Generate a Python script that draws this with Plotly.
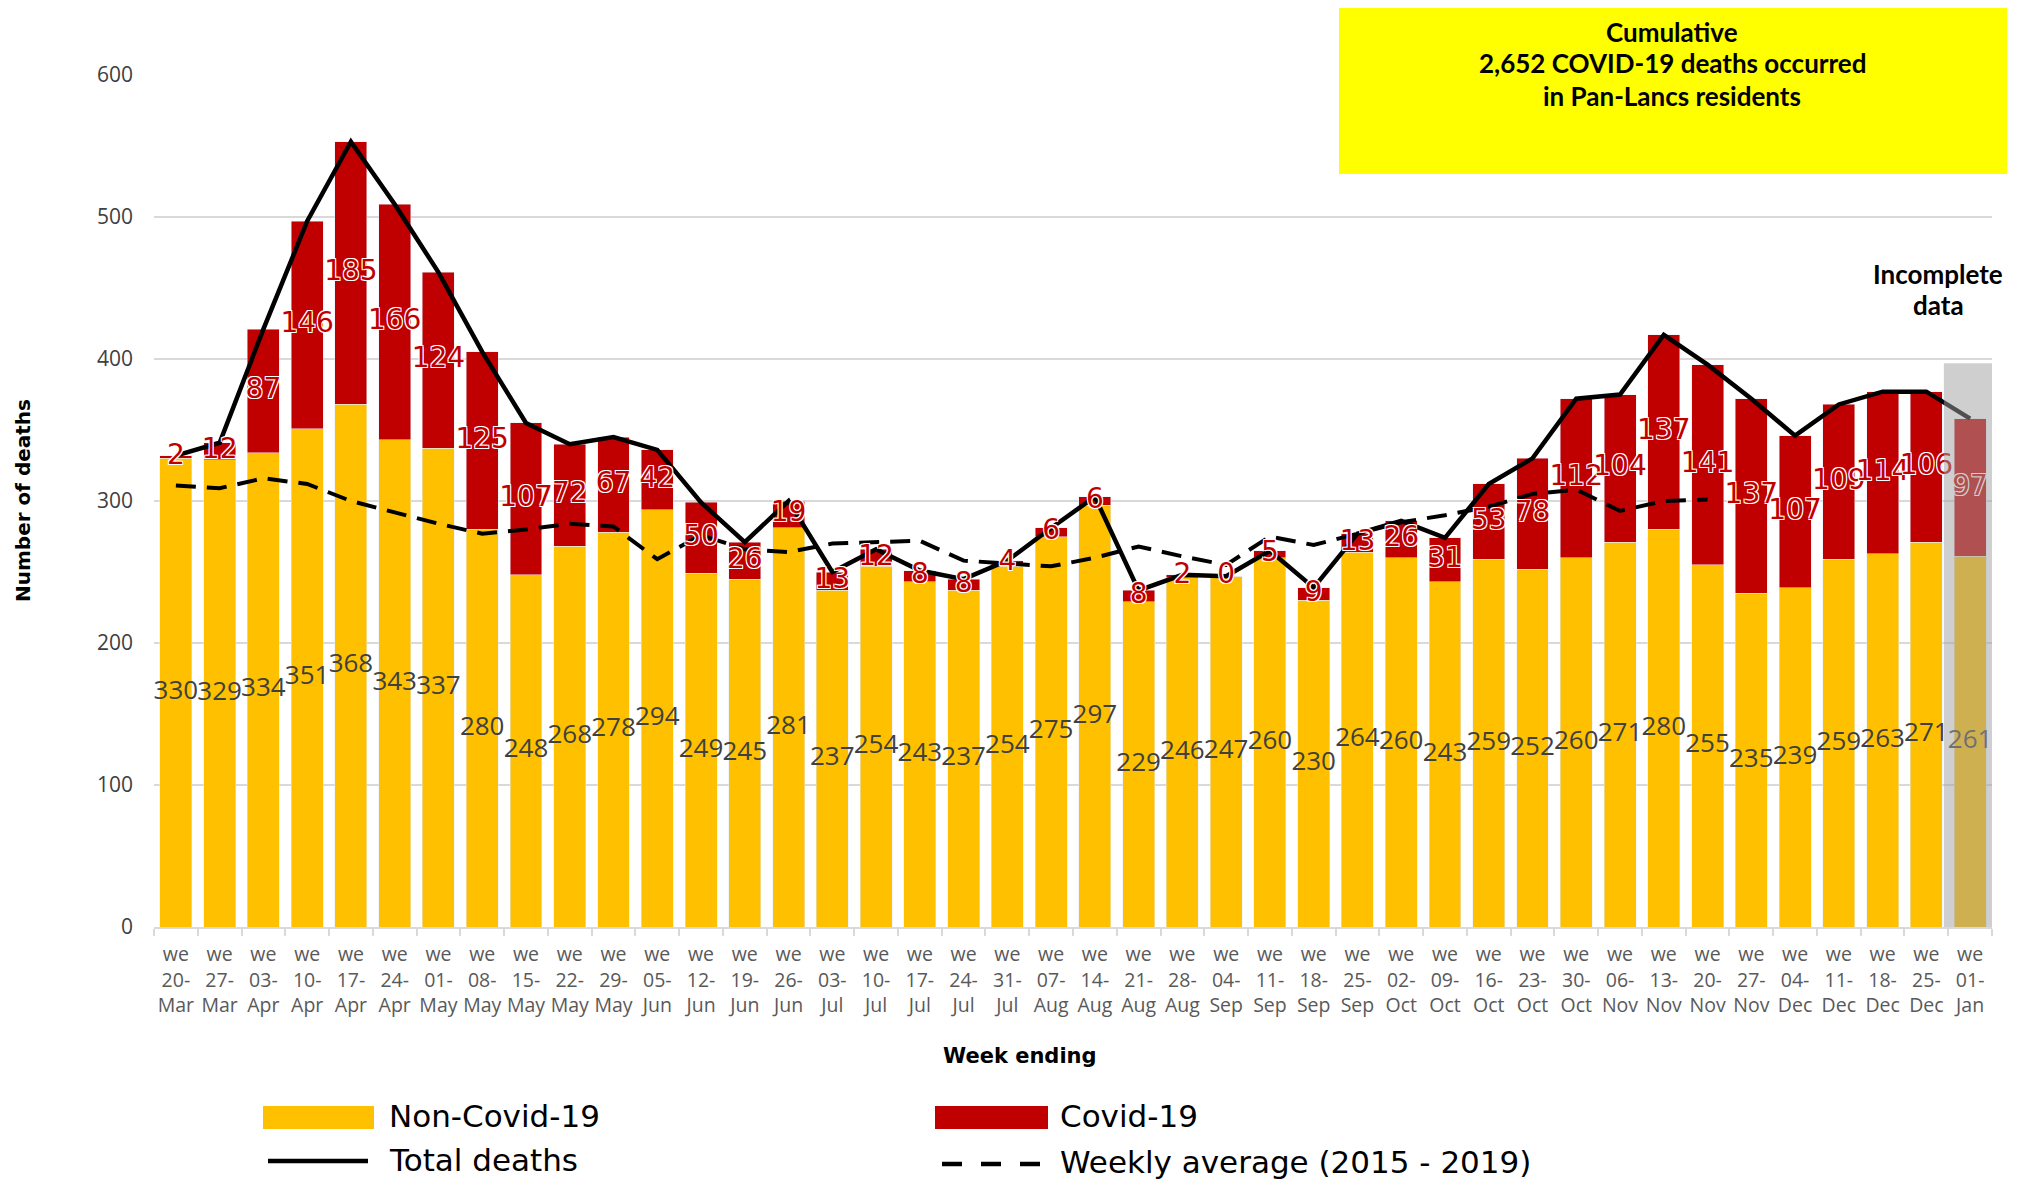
import plotly.graph_objects as go

weeks = ["20-Mar", "27-Mar", "03-Apr", "10-Apr", "17-Apr", "24-Apr", "01-May", "08-May",
         "15-May", "22-May", "29-May", "05-Jun", "12-Jun", "19-Jun", "26-Jun", "03-Jul",
         "10-Jul", "17-Jul", "24-Jul", "31-Jul", "07-Aug", "14-Aug", "21-Aug", "28-Aug",
         "04-Sep", "11-Sep", "18-Sep", "25-Sep", "02-Oct", "09-Oct", "16-Oct", "23-Oct",
         "30-Oct", "06-Nov", "13-Nov", "20-Nov", "27-Nov", "04-Dec", "11-Dec", "18-Dec",
         "25-Dec", "01-Jan"]
non_covid = [330, 329, 334, 351, 368, 343, 337, 280, 248, 268, 278, 294, 249, 245, 281, 237,
             254, 243, 237, 254, 275, 297, 229, 246, 247, 260, 230, 264, 260, 243, 259, 252,
             260, 271, 280, 255, 235, 239, 259, 263, 271, 261]
covid = [2, 12, 87, 146, 185, 166, 124, 125, 107, 72, 67, 42, 50, 26, 19, 13,
         12, 8, 8, 4, 6, 6, 8, 2, 0, 5, 9, 13, 26, 31, 53, 78,
         112, 104, 137, 141, 137, 107, 109, 114, 106, 97]
weekly_avg = [311, 309, 316, 312, 300, 292, 284, 277, 280, 284, 282, 259, 276, 266, 264, 270,
              271, 272, 258, 256, 254, 260, 268, 261, 255, 275, 269, 277, 285, 290, 296, 305,
              308, 293, 300, 301, None, None, None, None, None, None]

total = [a + b for a, b in zip(non_covid, covid)]
ticktext = ["we<br>" + w.split("-")[0] + "-<br>" + w.split("-")[1] for w in weeks]

O = 8  # page body margin offset
SW, SH = 2024, 1184
W, H = SW - O, SH - O
L, R, T, B = 154, 1992, 75, 927  # plot area in screen pixels


def px(x):
    return (x - L) / (R - L)


def py(y):
    return (B - y) / (B - T)


YELLOW = "#FFC000"
RED = "#C00000"
GREY_TXT = "#595959"
GRID = "#D9D9D9"

fig = go.Figure()
fig.add_trace(go.Bar(x=weeks, y=non_covid, marker_color=YELLOW, width=0.73, name="Non-Covid-19"))
fig.add_trace(go.Bar(x=weeks, y=covid, marker_color=RED, width=0.73, name="Covid-19"))
fig.add_trace(go.Scatter(x=weeks, y=total, mode="lines", line=dict(color="black", width=4.5),
                         name="Total deaths"))
fig.add_trace(go.Scatter(x=weeks, y=weekly_avg, mode="lines",
                         line=dict(color="black", width=4, dash="20px,11px"),
                         name="Weekly average (2015 - 2019)", connectgaps=False))

fig.add_trace(go.Scatter(x=weeks, y=[v / 2 for v in non_covid], mode="text",
                         text=[str(v) for v in non_covid],
                         textfont=dict(family="Open Sans", size=26, color="#404040"),
                         showlegend=False))
fig.add_trace(go.Scatter(x=weeks, y=[n + c / 2 for n, c in zip(non_covid, covid)], mode="text",
                         text=[str(v) for v in covid],
                         textfont=dict(family="DejaVu Sans", size=28, color=RED,
                                       shadow="1px 1px 0 #fff, -1px -1px 0 #fff, 1px -1px 0 #fff, -1px 1px 0 #fff"),
                         showlegend=False))

shapes = []
# incomplete data shading
shapes.append(dict(type="rect", xref="x", yref="y", x0=40.4, x1=41.5, y0=0, y1=397,
                   fillcolor="#A0A0A0", opacity=0.5, line=dict(width=0), layer="above"))
# yellow box
shapes.append(dict(type="rect", xref="paper", yref="paper", x0=px(1339), x1=px(2007),
                   y0=py(174), y1=py(8), fillcolor="#FFFF00", line=dict(width=0), layer="above"))
# legend
shapes.append(dict(type="rect", xref="paper", yref="paper", x0=px(263), x1=px(374),
                   y0=py(1129), y1=py(1106), fillcolor=YELLOW, line=dict(width=0)))
shapes.append(dict(type="rect", xref="paper", yref="paper", x0=px(935), x1=px(1048),
                   y0=py(1129), y1=py(1106), fillcolor=RED, line=dict(width=0)))
shapes.append(dict(type="line", xref="paper", yref="paper", x0=px(268), x1=px(368),
                   y0=py(1161), y1=py(1161), line=dict(color="black", width=4.5)))
shapes.append(dict(type="line", xref="paper", yref="paper", x0=px(942), x1=px(1040),
                   y0=py(1164), y1=py(1164), line=dict(color="black", width=4.5, dash="20px,19px")))

ann = []
box_font = dict(family="Lato", size=26, color="black", weight="bold")
for txt, y in [("Cumulative", 32), ("2,652 COVID-19 deaths occurred", 63), ("in Pan-Lancs residents", 96)]:
    ann.append(dict(text=txt, x=px(1672), y=py(y), xref="paper", yref="paper", showarrow=False,
                    xanchor="center", yanchor="middle", font=box_font))
for txt, y in [("Incomplete", 274), ("data", 305)]:
    ann.append(dict(text=txt, x=px(1938), y=py(y), xref="paper", yref="paper", showarrow=False,
                    xanchor="center", yanchor="middle", font=box_font))
ann.append(dict(text="<b>Number of deaths</b>", x=px(23), y=py(501), xref="paper", yref="paper",
                showarrow=False, textangle=-90, xanchor="center", yanchor="middle",
                font=dict(family="DejaVu Sans", size=20, color="black")))
ann.append(dict(text="<b>Week ending</b>", x=px(1020), y=py(1056), xref="paper", yref="paper",
                showarrow=False, xanchor="center", yanchor="middle",
                font=dict(family="DejaVu Sans", size=21, color="black")))
leg_font = dict(family="DejaVu Sans", size=31, color="black")
for txt, x, y in [("Non-Covid-19", 387, 1116), ("Covid-19", 1058, 1116),
                  ("Total deaths", 387, 1160), ("Weekly average (2015 - 2019)", 1058, 1162)]:
    ann.append(dict(text=txt, x=px(x), y=py(y), xref="paper", yref="paper", showarrow=False,
                    xanchor="left", yanchor="middle", font=leg_font))

fig.update_layout(
    width=W, height=H, autosize=False,
    margin=dict(l=L - O, r=SW - R, t=T - O, b=SH - B),
    paper_bgcolor="white", plot_bgcolor="white",
    barmode="stack", bargap=0.27,
    showlegend=False,
    shapes=shapes, annotations=ann,
    xaxis=dict(type="category", tickmode="array", tickvals=weeks, ticktext=ticktext,
               range=[-0.5, 41.5], showgrid=False, showline=True, linecolor=GRID, linewidth=2,
               ticks="outside", tickson="boundaries", ticklen=7, tickcolor=GRID, tickwidth=1.5,
               tickangle=0, ticklabelstandoff=9,
               tickfont=dict(family="Open Sans", size=19.5, color=GREY_TXT)),
    yaxis=dict(range=[0, 600], tickvals=[0, 100, 200, 300, 400, 500, 600], showgrid=True,
               gridcolor=GRID, gridwidth=2, zeroline=False, showline=False,
               ticks="", ticklabelstandoff=20,
               tickfont=dict(family="Open Sans", size=21, color="#404040")),
)

fig.write_html("out.html")
